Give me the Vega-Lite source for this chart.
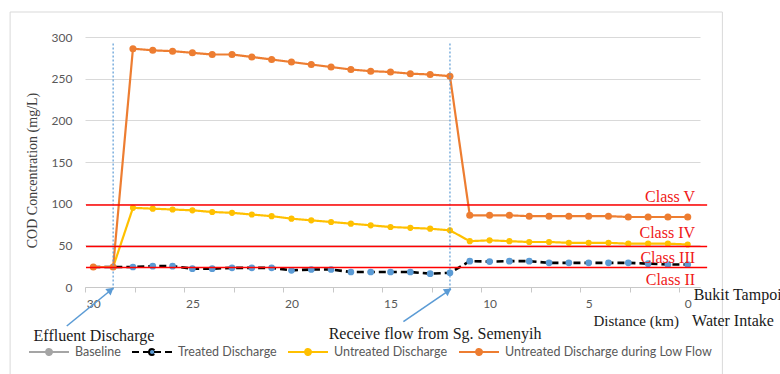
{
  "$schema": "https://vega.github.io/schema/vega-lite/v6.json",
  "width": 615,
  "height": 250,
  "autosize": {"type": "none"},
  "padding": {"left": 85, "top": 37, "right": 80, "bottom": 87},
  "background": "white",
  "config": {
    "view": {"stroke": null},
    "font": "Lato",
    "axis": {"labelFont": "Lato", "labelFontSize": 12, "labelColor": "#595959"}
  },
  "datasets": {
    "cod": [
      {"km": 30, "series": "Baseline", "cod": 24},
      {"km": 29, "series": "Baseline", "cod": 24},

      {"km": 30, "series": "Treated Discharge", "cod": 24},
      {"km": 29, "series": "Treated Discharge", "cod": 24},
      {"km": 28, "series": "Treated Discharge", "cod": 24},
      {"km": 27, "series": "Treated Discharge", "cod": 25},
      {"km": 26, "series": "Treated Discharge", "cod": 25},
      {"km": 25, "series": "Treated Discharge", "cod": 22},
      {"km": 24, "series": "Treated Discharge", "cod": 22},
      {"km": 23, "series": "Treated Discharge", "cod": 23},
      {"km": 22, "series": "Treated Discharge", "cod": 23},
      {"km": 21, "series": "Treated Discharge", "cod": 23},
      {"km": 20, "series": "Treated Discharge", "cod": 20},
      {"km": 19, "series": "Treated Discharge", "cod": 21},
      {"km": 18, "series": "Treated Discharge", "cod": 21},
      {"km": 17, "series": "Treated Discharge", "cod": 18},
      {"km": 16, "series": "Treated Discharge", "cod": 18},
      {"km": 15, "series": "Treated Discharge", "cod": 18},
      {"km": 14, "series": "Treated Discharge", "cod": 18},
      {"km": 13, "series": "Treated Discharge", "cod": 16},
      {"km": 12, "series": "Treated Discharge", "cod": 17},
      {"km": 11, "series": "Treated Discharge", "cod": 31},
      {"km": 10, "series": "Treated Discharge", "cod": 30.5},
      {"km": 9, "series": "Treated Discharge", "cod": 31},
      {"km": 8, "series": "Treated Discharge", "cod": 31},
      {"km": 7, "series": "Treated Discharge", "cod": 29},
      {"km": 6, "series": "Treated Discharge", "cod": 29},
      {"km": 5, "series": "Treated Discharge", "cod": 29},
      {"km": 4, "series": "Treated Discharge", "cod": 29},
      {"km": 3, "series": "Treated Discharge", "cod": 29},
      {"km": 2, "series": "Treated Discharge", "cod": 28},
      {"km": 1, "series": "Treated Discharge", "cod": 27},
      {"km": 0, "series": "Treated Discharge", "cod": 27},

      {"km": 30, "series": "Untreated Discharge", "cod": 24},
      {"km": 29, "series": "Untreated Discharge", "cod": 24},
      {"km": 28, "series": "Untreated Discharge", "cod": 95},
      {"km": 27, "series": "Untreated Discharge", "cod": 94},
      {"km": 26, "series": "Untreated Discharge", "cod": 93},
      {"km": 25, "series": "Untreated Discharge", "cod": 92},
      {"km": 24, "series": "Untreated Discharge", "cod": 90},
      {"km": 23, "series": "Untreated Discharge", "cod": 89},
      {"km": 22, "series": "Untreated Discharge", "cod": 87},
      {"km": 21, "series": "Untreated Discharge", "cod": 85},
      {"km": 20, "series": "Untreated Discharge", "cod": 82},
      {"km": 19, "series": "Untreated Discharge", "cod": 80},
      {"km": 18, "series": "Untreated Discharge", "cod": 78},
      {"km": 17, "series": "Untreated Discharge", "cod": 76},
      {"km": 16, "series": "Untreated Discharge", "cod": 74},
      {"km": 15, "series": "Untreated Discharge", "cod": 72},
      {"km": 14, "series": "Untreated Discharge", "cod": 71},
      {"km": 13, "series": "Untreated Discharge", "cod": 70},
      {"km": 12, "series": "Untreated Discharge", "cod": 68},
      {"km": 11, "series": "Untreated Discharge", "cod": 55},
      {"km": 10, "series": "Untreated Discharge", "cod": 56},
      {"km": 9, "series": "Untreated Discharge", "cod": 55},
      {"km": 8, "series": "Untreated Discharge", "cod": 54},
      {"km": 7, "series": "Untreated Discharge", "cod": 54},
      {"km": 6, "series": "Untreated Discharge", "cod": 53},
      {"km": 5, "series": "Untreated Discharge", "cod": 53},
      {"km": 4, "series": "Untreated Discharge", "cod": 53},
      {"km": 3, "series": "Untreated Discharge", "cod": 52},
      {"km": 2, "series": "Untreated Discharge", "cod": 52},
      {"km": 1, "series": "Untreated Discharge", "cod": 52},
      {"km": 0, "series": "Untreated Discharge", "cod": 51},

      {"km": 30, "series": "Untreated Discharge during Low Flow", "cod": 24},
      {"km": 29, "series": "Untreated Discharge during Low Flow", "cod": 24},
      {"km": 28, "series": "Untreated Discharge during Low Flow", "cod": 286},
      {"km": 27, "series": "Untreated Discharge during Low Flow", "cod": 284},
      {"km": 26, "series": "Untreated Discharge during Low Flow", "cod": 283},
      {"km": 25, "series": "Untreated Discharge during Low Flow", "cod": 281},
      {"km": 24, "series": "Untreated Discharge during Low Flow", "cod": 279},
      {"km": 23, "series": "Untreated Discharge during Low Flow", "cod": 279},
      {"km": 22, "series": "Untreated Discharge during Low Flow", "cod": 276},
      {"km": 21, "series": "Untreated Discharge during Low Flow", "cod": 273},
      {"km": 20, "series": "Untreated Discharge during Low Flow", "cod": 270},
      {"km": 19, "series": "Untreated Discharge during Low Flow", "cod": 267},
      {"km": 18, "series": "Untreated Discharge during Low Flow", "cod": 264},
      {"km": 17, "series": "Untreated Discharge during Low Flow", "cod": 261},
      {"km": 16, "series": "Untreated Discharge during Low Flow", "cod": 259},
      {"km": 15, "series": "Untreated Discharge during Low Flow", "cod": 258},
      {"km": 14, "series": "Untreated Discharge during Low Flow", "cod": 256},
      {"km": 13, "series": "Untreated Discharge during Low Flow", "cod": 255},
      {"km": 12, "series": "Untreated Discharge during Low Flow", "cod": 253},
      {"km": 11, "series": "Untreated Discharge during Low Flow", "cod": 86},
      {"km": 10, "series": "Untreated Discharge during Low Flow", "cod": 86},
      {"km": 9, "series": "Untreated Discharge during Low Flow", "cod": 86},
      {"km": 8, "series": "Untreated Discharge during Low Flow", "cod": 85},
      {"km": 7, "series": "Untreated Discharge during Low Flow", "cod": 85},
      {"km": 6, "series": "Untreated Discharge during Low Flow", "cod": 85},
      {"km": 5, "series": "Untreated Discharge during Low Flow", "cod": 85},
      {"km": 4, "series": "Untreated Discharge during Low Flow", "cod": 85},
      {"km": 3, "series": "Untreated Discharge during Low Flow", "cod": 84},
      {"km": 2, "series": "Untreated Discharge during Low Flow", "cod": 84},
      {"km": 1, "series": "Untreated Discharge during Low Flow", "cod": 84},
      {"km": 0, "series": "Untreated Discharge during Low Flow", "cod": 84}
    ],
    "classes": [
      {"cls": "Class V", "cod": 98.5, "labelcod": 102.4},
      {"cls": "Class IV", "cod": 48.5, "labelcod": 58.4},
      {"cls": "Class III", "cod": 23.5, "labelcod": 28.4},
      {"cls": "Class II", "cod": null, "labelcod": 2.4}
    ],
    "events": [
      {"km": 29, "event": "Effluent Discharge"},
      {"km": 12, "event": "Receive flow from Sg. Semenyih"}
    ]
  },
  "resolve": {"axis": {"x": "independent"}},
  "layer": [
    {
      "data": {"values": [{}]},
      "mark": {"type": "rect", "fill": null, "stroke": "#d9d9d9", "strokeWidth": 1, "clip": false},
      "encoding": {
        "x": {"datum": 34.2, "type": "quantitative", "scale": {"domain": [-0.62, 30.42], "reverse": true, "nice": false, "zero": false}, "axis": null},
        "x2": {"datum": -1.75},
        "y": {"datum": 330, "type": "quantitative", "scale": {"domain": [0, 300], "nice": false, "zero": false}},
        "y2": {"datum": -115}
      }
    },
    {
      "data": {"name": "cod"},
      "transform": [{"filter": "datum.series === 'Baseline'"}],
      "mark": {"type": "line", "strokeWidth": 2.2, "clip": false},
      "encoding": {
        "x": {"field": "km", "type": "quantitative",
          "axis": {"orient": "bottom", "values": [0, 5, 10, 15, 20, 25, 30], "ticks": false, "domain": false, "grid": false, "labelPadding": 11, "labelFlush": false, "title": null}},
        "y": {"field": "cod", "type": "quantitative", "title": "COD Concentration (mg/L)",
          "axis": {"values": [0, 50, 100, 150, 200, 250, 300], "ticks": false, "tickSize": 0, "domain": false, "grid": true, "gridColor": "#d9d9d9", "gridWidth": 1, "labelPadding": 13,
            "title": "COD Concentration (mg/L)", "titleFont": "Liberation Serif", "titleFontSize": 14, "titleFontWeight": "normal", "titleColor": "#404040",
            "titleAngle": 270, "titleX": -53, "titleY": 133, "titleAlign": "center", "titleBaseline": "middle"}},
        "stroke": {"field": "series", "type": "nominal",
          "scale": {"domain": ["Baseline", "Treated Discharge", "Untreated Discharge", "Untreated Discharge during Low Flow"], "range": ["#a5a5a5", "#000000", "#ffc000", "#ed7d31"]},
          "legend": {"orient": "none", "legendX": -57, "legendY": 294, "direction": "horizontal", "title": null,
            "symbolType": "M-1,0H1M-0.15,0A0.15,0.15 0 1,0 0.15,0A0.15,0.15 0 1,0 -0.15,0",
            "symbolSize": 1600, "symbolStrokeWidth": 2, "labelFont": "Lato", "labelFontSize": 12.5, "labelColor": "#595959", "labelLimit": 400,
            "columnPadding": 7, "labelOffset": 5}},
        "strokeDash": {"field": "series", "type": "nominal",
          "scale": {"domain": ["Baseline", "Treated Discharge", "Untreated Discharge", "Untreated Discharge during Low Flow"], "range": [[1, 0], [7, 4], [1, 0], [1, 0]]}}
      }
    },
    {
      "data": {"name": "cod"},
      "transform": [{"filter": "datum.series === 'Treated Discharge'"}],
      "mark": {"type": "line", "strokeWidth": 2.6, "clip": false},
      "encoding": {
        "x": {"field": "km", "type": "quantitative", "axis": null},
        "y": {"field": "cod", "type": "quantitative", "title": "COD Concentration (mg/L)"},
        "stroke": {"field": "series", "type": "nominal"},
        "strokeDash": {"field": "series", "type": "nominal"}
      }
    },
    {
      "data": {"name": "cod"},
      "transform": [{"filter": "datum.series === 'Treated Discharge' && datum.km <= 28"}],
      "mark": {"type": "point", "filled": true, "size": 45, "opacity": 1, "strokeWidth": 0, "clip": false},
      "encoding": {
        "x": {"field": "km", "type": "quantitative", "axis": null},
        "y": {"field": "cod", "type": "quantitative", "title": "COD Concentration (mg/L)"},
        "fill": {"field": "series", "type": "nominal",
          "scale": {"domain": ["Baseline", "Treated Discharge", "Untreated Discharge", "Untreated Discharge during Low Flow"], "range": ["#a5a5a5", "#5b9bd5", "#ffc000", "#ed7d31"]}}
      }
    },
    {
      "data": {"name": "cod"},
      "transform": [{"filter": "datum.series === 'Untreated Discharge'"}],
      "mark": {"type": "line", "strokeWidth": 2.2, "clip": false},
      "encoding": {
        "x": {"field": "km", "type": "quantitative", "axis": null},
        "y": {"field": "cod", "type": "quantitative", "title": "COD Concentration (mg/L)"},
        "stroke": {"field": "series", "type": "nominal"},
        "strokeDash": {"field": "series", "type": "nominal"}
      }
    },
    {
      "data": {"name": "cod"},
      "transform": [{"filter": "datum.series === 'Untreated Discharge' && datum.km <= 28"}],
      "mark": {"type": "point", "filled": true, "size": 38, "opacity": 1, "strokeWidth": 0, "clip": false},
      "encoding": {
        "x": {"field": "km", "type": "quantitative", "axis": null},
        "y": {"field": "cod", "type": "quantitative", "title": "COD Concentration (mg/L)"},
        "fill": {"field": "series", "type": "nominal"}
      }
    },
    {
      "data": {"name": "cod"},
      "transform": [{"filter": "datum.series === 'Untreated Discharge during Low Flow'"}],
      "mark": {"type": "line", "strokeWidth": 2.2, "clip": false},
      "encoding": {
        "x": {"field": "km", "type": "quantitative", "axis": null},
        "y": {"field": "cod", "type": "quantitative", "title": "COD Concentration (mg/L)"},
        "stroke": {"field": "series", "type": "nominal"},
        "strokeDash": {"field": "series", "type": "nominal"}
      }
    },
    {
      "data": {"name": "cod"},
      "transform": [{"filter": "datum.series === 'Untreated Discharge during Low Flow'"}],
      "mark": {"type": "point", "filled": true, "size": 50, "opacity": 1, "strokeWidth": 0, "clip": false},
      "encoding": {
        "x": {"field": "km", "type": "quantitative", "axis": null},
        "y": {"field": "cod", "type": "quantitative", "title": "COD Concentration (mg/L)"},
        "fill": {"field": "series", "type": "nominal"}
      }
    },
    {
      "data": {"name": "events"},
      "mark": {"type": "rule", "color": "#5b9bd5", "strokeWidth": 1.2, "strokeDash": [2, 2], "clip": false},
      "encoding": {
        "x": {"field": "km", "type": "quantitative",
          "axis": {"orient": "bottom", "values": [30.42, 27.92, 25.42, 22.92, 20.42, 17.92, 15.42, 12.92, 10.42, 7.92, 5.42, 2.92, 0.42],
            "labels": false, "ticks": true, "tickSize": 5, "tickColor": "#c8c8c8", "domain": true, "domainColor": "#c8c8c8", "grid": false, "title": null}},
        "y": {"datum": -3, "type": "quantitative"},
        "y2": {"datum": 294}
      }
    },
    {
      "data": {"name": "classes"},
      "transform": [{"filter": "isValid(datum.cod)"}],
      "mark": {"type": "rule", "color": "#ff0000", "strokeWidth": 1.5, "clip": false},
      "encoding": {
        "x": {"datum": 30.37, "type": "quantitative", "axis": null},
        "x2": {"datum": -0.98},
        "y": {"field": "cod", "type": "quantitative", "title": "COD Concentration (mg/L)"}
      }
    },
    {
      "data": {"name": "classes"},
      "mark": {"type": "text", "font": "Liberation Serif", "fontSize": 16, "color": "#f01818", "align": "right", "baseline": "alphabetic", "clip": false},
      "encoding": {
        "x": {"datum": -0.37, "type": "quantitative", "axis": null},
        "y": {"field": "labelcod", "type": "quantitative", "title": "COD Concentration (mg/L)"},
        "text": {"field": "cls"}
      }
    },
    {
      "data": {"values": [{}]},
      "mark": {"type": "rule", "color": "#5b9bd5", "strokeWidth": 1.6, "clip": false},
      "encoding": {
        "x": {"datum": 31.34, "type": "quantitative", "axis": null},
        "x2": {"datum": 29.0},
        "y": {"datum": -46.8, "type": "quantitative"},
        "y2": {"datum": -1.5}
      }
    },
    {
      "data": {"values": [{}]},
      "mark": {"type": "point", "shape": "triangle-up", "filled": true, "color": "#5b9bd5", "size": 70, "angle": 51, "opacity": 1, "strokeWidth": 0, "clip": false},
      "encoding": {
        "x": {"datum": 29.12, "type": "quantitative", "axis": null},
        "y": {"datum": -3.6, "type": "quantitative"}
      }
    },
    {
      "data": {"values": [{}]},
      "mark": {"type": "rule", "color": "#5b9bd5", "strokeWidth": 1.6, "clip": false},
      "encoding": {
        "x": {"datum": 14.35, "type": "quantitative", "axis": null},
        "x2": {"datum": 11.95},
        "y": {"datum": -41.6, "type": "quantitative"},
        "y2": {"datum": -2.5}
      }
    },
    {
      "data": {"values": [{}]},
      "mark": {"type": "point", "shape": "triangle-up", "filled": true, "color": "#5b9bd5", "size": 70, "angle": 55, "opacity": 1, "strokeWidth": 0, "clip": false},
      "encoding": {
        "x": {"datum": 12.09, "type": "quantitative", "axis": null},
        "y": {"datum": -4.4, "type": "quantitative"}
      }
    },
    {
      "data": {"values": [{}]},
      "mark": {"type": "text", "text": "Effluent Discharge", "font": "Liberation Serif", "fontSize": 16, "color": "#1a1a1a", "align": "center", "baseline": "alphabetic", "clip": false},
      "encoding": {
        "x": {"datum": 29.97, "type": "quantitative", "axis": null},
        "y": {"datum": -64.8, "type": "quantitative"}
      }
    },
    {
      "data": {"values": [{}]},
      "mark": {"type": "text", "text": "Receive flow from Sg. Semenyih", "font": "Liberation Serif", "fontSize": 16, "color": "#1a1a1a", "align": "center", "baseline": "alphabetic", "clip": false},
      "encoding": {
        "x": {"datum": 12.75, "type": "quantitative", "axis": null},
        "y": {"datum": -62.4, "type": "quantitative"}
      }
    },
    {
      "data": {"values": [{}]},
      "mark": {"type": "text", "text": "Distance (km)", "font": "Liberation Serif", "fontSize": 15, "color": "#1a1a1a", "align": "center", "baseline": "alphabetic", "clip": false},
      "encoding": {
        "x": {"datum": 2.6, "type": "quantitative", "axis": null},
        "y": {"datum": -46.8, "type": "quantitative"}
      }
    },
    {
      "data": {"values": [{}]},
      "mark": {"type": "text", "text": "Bukit Tampoi", "font": "Liberation Serif", "fontSize": 16, "color": "#1a1a1a", "align": "left", "baseline": "alphabetic", "clip": false},
      "encoding": {
        "x": {"datum": -0.3, "type": "quantitative", "axis": null},
        "y": {"datum": -15.6, "type": "quantitative"}
      }
    },
    {
      "data": {"values": [{}]},
      "mark": {"type": "text", "text": "Water Intake", "font": "Liberation Serif", "fontSize": 16, "color": "#1a1a1a", "align": "left", "baseline": "alphabetic", "clip": false},
      "encoding": {
        "x": {"datum": -0.22, "type": "quantitative", "axis": null},
        "y": {"datum": -46.8, "type": "quantitative"}
      }
    }
  ]
}
